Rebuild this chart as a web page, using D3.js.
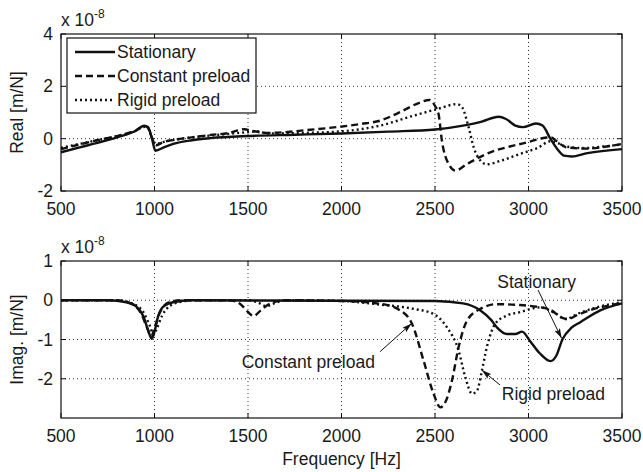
<!DOCTYPE html>
<html lang="en">
<head>
  <meta charset="UTF-8">
  <title>Receptance</title>
  <style>
    *{ margin:0; padding:0 }
    html, body { width:643px; height:472px; background:#fff; overflow:hidden }
    svg { position:absolute; top:0; left:0 }
    text { font-family:"Liberation Sans", Arial, sans-serif; fill:#1a1a1a }
    .grid { stroke:#333; stroke-width:1; stroke-dasharray:1,3 }
    .frame { fill:none; stroke:#111; stroke-width:1.2 }
    .curve { fill:none; stroke:#111; stroke-width:2.4; stroke-linejoin:round }
  </style>
  <script src="https://cdn.jsdelivr.net/npm/d3@7/dist/d3.min.js"></script>
</head>
<body>
<svg id="chart" width="643" height="472"></svg>
<script>
  // values in 1e-8 m/N, [frequency Hz, value]
  const realStationary = [[500,-0.52],[600,-0.33],[700,-0.15],[800,0.05],[900,0.3],[945,0.5],[965,0.45],[985,0.05],[1005,-0.46],[1050,-0.33],[1100,-0.2],[1200,-0.06],[1300,0.02],[1500,0.1],[1750,0.15],[2000,0.2],[2250,0.27],[2500,0.35],[2650,0.5],[2750,0.65],[2840,0.84],[2880,0.75],[2930,0.5],[2970,0.44],[3040,0.58],[3075,0.5],[3117,0.0],[3160,-0.45],[3190,-0.65],[3230,-0.68],[3315,-0.55],[3500,-0.4]];
  const realConstant = [[500,-0.4],[600,-0.22],[700,-0.05],[800,0.1],[900,0.32],[945,0.48],[965,0.42],[985,0.05],[1008,-0.25],[1050,-0.12],[1100,-0.05],[1200,0.05],[1300,0.14],[1400,0.22],[1480,0.36],[1520,0.3],[1600,0.22],[1833,0.34],[2100,0.56],[2207,0.69],[2300,0.97],[2420,1.38],[2470,1.48],[2500,1.25],[2519,0.94],[2537,-0.08],[2573,-0.97],[2609,-1.22],[2671,-0.97],[2796,-0.52],[2900,-0.3],[2992,-0.14],[3064,0.0],[3117,0.05],[3160,-0.15],[3200,-0.33],[3313,-0.38],[3400,-0.32],[3500,-0.2]];
  const realRigid = [[500,-0.35],[600,-0.2],[700,-0.05],[800,0.1],[900,0.3],[945,0.45],[965,0.4],[985,0.05],[1008,-0.2],[1050,-0.12],[1100,-0.05],[1200,0.05],[1350,0.15],[1500,0.25],[1550,0.28],[1600,0.2],[1800,0.22],[2000,0.28],[2207,0.5],[2386,0.88],[2511,1.13],[2618,1.32],[2645,1.2],[2680,0.43],[2707,-0.33],[2743,-0.84],[2777,-0.98],[2849,-0.85],[2956,-0.58],[3050,-0.35],[3117,-0.1],[3160,-0.18],[3200,-0.3],[3300,-0.36],[3400,-0.3],[3500,-0.22]];

  const imagStationary = [[500,0],[750,0],[850,-0.05],[900,-0.15],[940,-0.4],[965,-0.75],[985,-0.98],[1000,-0.8],[1020,-0.4],[1050,-0.15],[1100,-0.05],[1200,0],[2500,-0.02],[2650,-0.08],[2743,-0.26],[2800,-0.5],[2831,-0.69],[2885,-0.86],[2930,-0.86],[2965,-0.8],[3010,-1.05],[3060,-1.35],[3117,-1.55],[3150,-1.4],[3181,-1.0],[3230,-0.7],[3277,-0.56],[3384,-0.26],[3500,-0.08]];
  const imagConstant = [[500,0],[800,0],[880,-0.1],[930,-0.35],[960,-0.7],[983,-0.92],[1000,-0.7],[1030,-0.3],[1080,-0.05],[1150,0],[1400,0],[1460,-0.1],[1500,-0.3],[1530,-0.4],[1570,-0.25],[1620,-0.08],[1700,0],[2000,-0.02],[2207,-0.09],[2314,-0.26],[2377,-0.6],[2439,-1.54],[2493,-2.39],[2529,-2.73],[2555,-2.6],[2591,-2.04],[2626,-1.2],[2671,-0.52],[2743,-0.22],[2831,-0.1],[2950,-0.12],[3050,-0.17],[3120,-0.25],[3180,-0.45],[3210,-0.48],[3260,-0.38],[3350,-0.22],[3450,-0.12],[3500,-0.08]];
  const imagRigid = [[500,0],[800,0],[880,-0.08],[940,-0.3],[975,-0.65],[995,-0.88],[1010,-0.75],[1040,-0.4],[1080,-0.15],[1150,-0.03],[1200,0],[1500,0],[1550,-0.05],[1600,-0.15],[1640,-0.08],[1700,0],[2000,-0.02],[2207,-0.11],[2386,-0.22],[2493,-0.35],[2564,-0.69],[2626,-1.28],[2662,-1.96],[2698,-2.38],[2725,-2.3],[2751,-1.79],[2777,-1.2],[2822,-0.6],[2885,-0.39],[2956,-0.3],[3063,-0.18],[3150,-0.35],[3200,-0.48],[3260,-0.35],[3350,-0.2],[3500,-0.05]];

  const seriesNames = ["Stationary","Constant preload","Rigid preload"];
  const dashes = [null,"7,4","2,3"];
  const freqTicks = [500,1000,1500,2000,2500,3000,3500];
  const realTicks = [-2,0,2,4];
  const imagTicks = [-2,-1,0,1];
  // annotations: label pos and arrow from -> to, in data units
  const notes = [
    {text:"Stationary", tx:3044, ty:0.47, anchor:"middle", from:[3051,0.26], to:[3177,-0.97]},
    {text:"Constant preload", tx:1466, ty:-1.57, anchor:"start", from:[2206,-1.31], to:[2375,-0.59]},
    {text:"Rigid preload", tx:2857, ty:-2.39, anchor:"start", from:[2848,-2.16], to:[2750,-1.78]}
  ];

  const svg = d3.select("#chart");
  const L = 61, R = 622;
  const x = d3.scaleLinear([500,3500],[L,R]);
  const yTop = d3.scaleLinear([-2,4],[191,34]);
  const yBot = d3.scaleLinear([-3,1],[418,261]);
  const fs = 17.5;

  svg.append("defs").append("marker")
    .attr("id","head").attr("viewBox","0 0 10 6").attr("refX",10).attr("refY",3)
    .attr("markerWidth",10).attr("markerHeight",6).attr("markerUnits","userSpaceOnUse")
    .attr("orient","auto")
    .append("path").attr("d","M0,0L10,3L0,6L2,3Z").attr("fill","#111");

  function panel(y, ticks, data, ylabel){
    const g = svg.append("g");
    const [y0,y1] = y.range();
    // grid
    g.selectAll(".gx").data(freqTicks.slice(1,-1)).join("line").attr("class","grid")
      .attr("x1",d=>x(d)).attr("x2",d=>x(d)).attr("y1",y1).attr("y2",y0);
    g.selectAll(".gy").data(ticks.filter(t=>y(t)<y0-1 && y(t)>y1+1)).join("line").attr("class","grid")
      .attr("x1",L).attr("x2",R).attr("y1",d=>y(d)).attr("y2",d=>y(d));
    // curves
    const line = d3.line().x(d=>x(d[0])).y(d=>y(d[1])).curve(d3.curveMonotoneX);
    data.forEach((s,i)=>{
      g.append("path").attr("class","curve").attr("d",line(s))
        .attr("stroke-dasharray",dashes[i]);
    });
    // frame + ticks inside
    g.append("rect").attr("class","frame").attr("x",L).attr("y",y1).attr("width",R-L).attr("height",y0-y1);
    const tk = g.append("g").attr("stroke","#111");
    freqTicks.forEach(t=>{
      tk.append("line").attr("x1",x(t)).attr("x2",x(t)).attr("y1",y0).attr("y2",y0-5);
      tk.append("line").attr("x1",x(t)).attr("x2",x(t)).attr("y1",y1).attr("y2",y1+5);
    });
    ticks.forEach(t=>{
      tk.append("line").attr("x1",L).attr("x2",L+5).attr("y1",y(t)).attr("y2",y(t));
      tk.append("line").attr("x1",R).attr("x2",R-5).attr("y1",y(t)).attr("y2",y(t));
    });
    // tick labels
    g.selectAll(".xl").data(freqTicks).join("text")
      .attr("x",d=>x(d)).attr("y",y0+24).attr("text-anchor","middle")
      .attr("font-size",fs).text(d=>d);
    g.selectAll(".yl").data(ticks).join("text")
      .attr("x",L-8).attr("y",d=>y(d)+6).attr("text-anchor","end")
      .attr("font-size",fs).text(d=>d);
    // exponent
    const ex = g.append("text").attr("x",L).attr("y",y1-8).attr("font-size",fs);
    ex.append("tspan").text("x 10");
    ex.append("tspan").attr("dy",-8).attr("font-size",12).text("-8");
    // y label
    g.append("text").attr("transform",`translate(23,${(y0+y1)/2}) rotate(-90)`)
      .attr("text-anchor","middle").attr("font-size",fs).text(ylabel);
    return g;
  }

  panel(yTop, realTicks, [realStationary, realConstant, realRigid], "Real [m/N]");
  const gb = panel(yBot, imagTicks, [imagStationary, imagConstant, imagRigid], "Imag. [m/N]");

  // x label
  svg.append("text").attr("x",(L+R)/2).attr("y",465).attr("text-anchor","middle")
    .attr("font-size",fs).text("Frequency [Hz]");

  // legend
  const lg = svg.append("g");
  lg.append("rect").attr("x",67).attr("y",38).attr("width",189).attr("height",75)
    .attr("fill","#fff").attr("stroke","#111").attr("stroke-width",1.2);
  seriesNames.forEach((n,i)=>{
    const yy = 52 + i*24;
    lg.append("line").attr("x1",75).attr("x2",115).attr("y1",yy).attr("y2",yy)
      .attr("class","curve").attr("stroke-dasharray",dashes[i]);
    lg.append("text").attr("x",117).attr("y",yy+6).attr("font-size",fs).text(n);
  });

  // annotations
  notes.forEach(a=>{
    gb.append("line")
      .attr("x1",x(a.from[0])).attr("y1",yBot(a.from[1]))
      .attr("x2",x(a.to[0])).attr("y2",yBot(a.to[1]))
      .attr("stroke","#111").attr("stroke-width",1).attr("marker-end","url(#head)");
    gb.append("text").attr("x",x(a.tx)).attr("y",yBot(a.ty)+6)
      .attr("text-anchor",a.anchor).attr("font-size",fs).text(a.text);
  });
</script>
</body>
</html>
